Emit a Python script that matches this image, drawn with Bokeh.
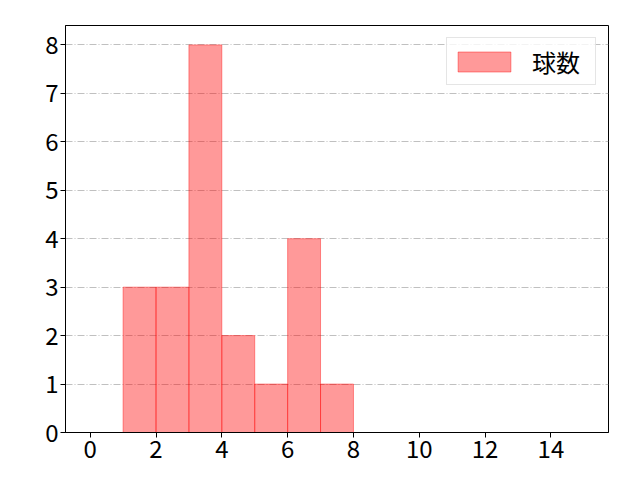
from bokeh.plotting import figure
from bokeh.models import Range1d, FixedTicker, Legend, LegendItem, ColumnDataSource
from bokeh.embed import file_html
from bokeh.resources import INLINE

bin_left = [1, 2, 3, 4, 5, 6, 7]
bin_right = [2, 3, 4, 5, 6, 7, 8]
counts = [3, 3, 8, 2, 1, 4, 1]
x_ticks = [0, 2, 4, 6, 8, 10, 12, 14]
y_ticks = [0, 1, 2, 3, 4, 5, 6, 7, 8]
series_name = "球数"

FONT = "Noto Sans CJK JP"

p = figure(width=640, height=480, output_backend="svg", toolbar_location=None,
           x_range=Range1d(-0.75, 15.75), y_range=Range1d(0, 8.4),
           min_border_left=65, min_border_right=32, min_border_top=25, min_border_bottom=48)
p.background_fill_color = "white"
p.border_fill_color = "white"
p.outline_line_color = "black"
p.outline_line_width = 1

src = ColumnDataSource(dict(left=bin_left, right=bin_right, top=counts, bottom=[0]*len(counts)))
r = p.quad(left="left", right="right", top="top", bottom="bottom", source=src,
           fill_color="red", fill_alpha=0.4, line_color="red", line_alpha=0.4, line_width=1)

p.xgrid.grid_line_color = None
p.ygrid.grid_line_color = "#b0b0b0"
p.ygrid.grid_line_dash = "7 2 1 2"
p.ygrid.grid_line_width = 0.8
p.ygrid.ticker = FixedTicker(ticks=y_ticks)

for ax, t in ((p.xaxis[0], x_ticks), (p.yaxis[0], y_ticks)):
    ax.ticker = FixedTicker(ticks=t)
    ax.major_label_text_font = FONT
    ax.major_label_text_font_size = "24px"
    ax.major_label_text_color = "black"
    ax.major_tick_out = 5
    ax.major_tick_in = 0
    ax.minor_tick_out = 0
    ax.minor_tick_in = 0
    ax.axis_line_color = "black"
    ax.major_tick_line_color = "black"
    ax.major_label_standoff = 2

legend = Legend(items=[LegendItem(label=series_name, renderers=[r])], location="top_right")
legend.label_text_font = FONT
legend.label_text_font_size = "24px"
legend.label_text_color = "black"
legend.glyph_width = 66
legend.glyph_height = 25
legend.label_standoff = 15
legend.label_width = 59
legend.label_height = 38
legend.padding = 4
legend.margin = 12
legend.spacing = 0
legend.border_line_color = "#cccccc"
legend.border_line_width = 1
legend.background_fill_alpha = 0.8
p.add_layout(legend)

open("out.html", "w").write(file_html(p, INLINE))
